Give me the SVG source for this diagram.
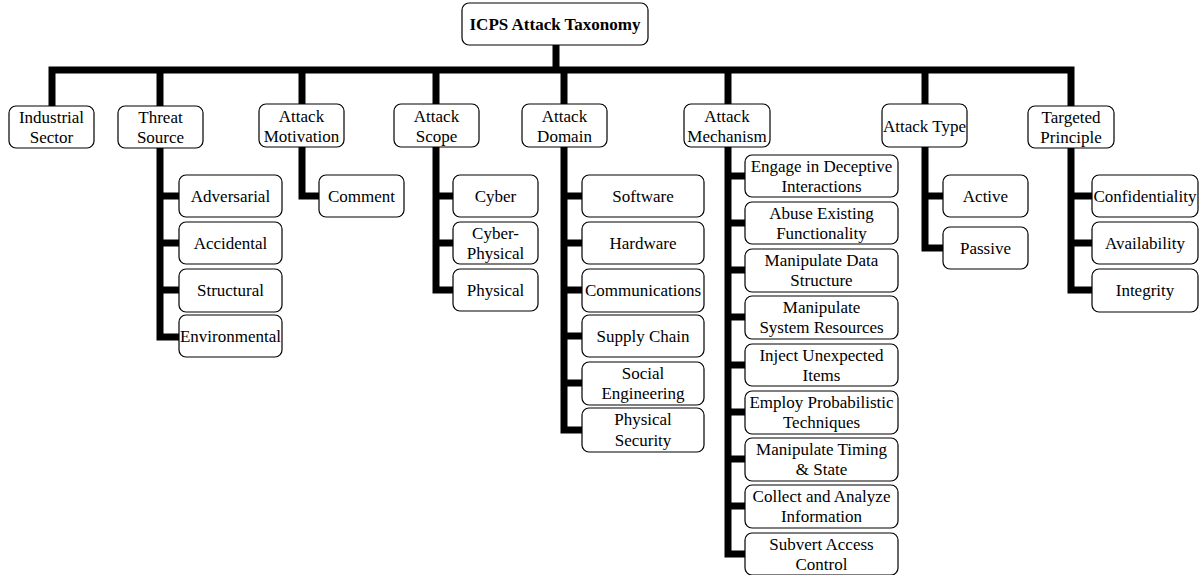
<svg xmlns="http://www.w3.org/2000/svg" width="1202" height="575" viewBox="0 0 1202 575">
<style>
.box{fill:#fff;stroke:#000;stroke-width:1.2}
.t{font-family:"Liberation Serif","Times New Roman",serif;font-size:17px;fill:#000;text-anchor:middle}
.b{font-weight:bold}
.c{fill:none;stroke:#000;stroke-width:7;stroke-linejoin:miter;stroke-linecap:butt}
</style>
<rect width="1202" height="575" fill="#fff"/>
<g id="connectors">
<path class="c" d="M556,45 V70"/>
<path class="c" d="M52,106 V70 H1071 V106"/>
<path class="c" d="M160,70 V106"/>
<path class="c" d="M302,70 V104"/>
<path class="c" d="M436,70 V104"/>
<path class="c" d="M564,70 V104"/>
<path class="c" d="M728,70 V104"/>
<path class="c" d="M925,70 V104"/>
<path class="c" d="M160,148 V337 H179 M160,196 H179 M160,243 H179 M160,290 H179"/>
<path class="c" d="M302,147 V196 H319"/>
<path class="c" d="M436,147 V290 H453 M436,196 H453 M436,243 H453"/>
<path class="c" d="M564,147 V430 H582 M564,196 H582 M564,243 H582 M564,290 H582 M564,336 H582 M564,383 H582"/>
<path class="c" d="M728,147 V554 H745 M728,176 H745 M728,223 H745 M728,270 H745 M728,317 H745 M728,365 H745 M728,412 H745 M728,459 H745 M728,506 H745"/>
<path class="c" d="M925,147 V248 H943 M925,196 H943"/>
<path class="c" d="M1071,148 V290 H1092 M1071,196 H1092 M1071,243 H1092"/>
</g>
<g id="root"><rect class="box" x="462" y="3" width="186" height="42" rx="7"/><text class="t b" x="555" y="30">ICPS Attack Taxonomy</text></g>
<g id="industrial-sector"><rect class="box" x="9" y="106" width="85" height="42" rx="7"/><text class="t" x="51.5" y="123">Industrial</text><text class="t" x="51.5" y="143">Sector</text></g>
<g id="threat-source"><rect class="box" x="118" y="106" width="85" height="42" rx="7"/><text class="t" x="160.5" y="123">Threat</text><text class="t" x="160.5" y="143">Source</text></g>
<g id="attack-motivation"><rect class="box" x="259" y="104" width="85" height="43" rx="7"/><text class="t" x="301.5" y="122">Attack</text><text class="t" x="301.5" y="142">Motivation</text></g>
<g id="attack-scope"><rect class="box" x="394" y="104" width="85" height="43" rx="7"/><text class="t" x="436.5" y="122">Attack</text><text class="t" x="436.5" y="142">Scope</text></g>
<g id="attack-domain"><rect class="box" x="522" y="104" width="85" height="43" rx="7"/><text class="t" x="564.5" y="122">Attack</text><text class="t" x="564.5" y="142">Domain</text></g>
<g id="attack-mechanism"><rect class="box" x="684" y="104" width="86" height="43" rx="7"/><text class="t" x="727" y="122">Attack</text><text class="t" x="727" y="142">Mechanism</text></g>
<g id="attack-type"><rect class="box" x="882" y="104" width="85" height="43" rx="7"/><text class="t" x="924.5" y="132">Attack Type</text></g>
<g id="targeted-principle"><rect class="box" x="1028" y="106" width="86" height="42" rx="7"/><text class="t" x="1071" y="123">Targeted</text><text class="t" x="1071" y="143">Principle</text></g>
<g id="adversarial"><rect class="box" x="179" y="175" width="103" height="42" rx="7"/><text class="t" x="230.5" y="201.5">Adversarial</text></g>
<g id="accidental"><rect class="box" x="179" y="222" width="103" height="42" rx="7"/><text class="t" x="230.5" y="248.5">Accidental</text></g>
<g id="structural"><rect class="box" x="179" y="269" width="103" height="43" rx="7"/><text class="t" x="230.5" y="296">Structural</text></g>
<g id="environmental"><rect class="box" x="179" y="315" width="103" height="42" rx="7"/><text class="t" x="230.5" y="341.5">Environmental</text></g>
<g id="comment"><rect class="box" x="319" y="175" width="85" height="42" rx="7"/><text class="t" x="361.5" y="201.5">Comment</text></g>
<g id="cyber"><rect class="box" x="453" y="175" width="85" height="42" rx="7"/><text class="t" x="495.5" y="201.5">Cyber</text></g>
<g id="cyber-physical"><rect class="box" x="453" y="222" width="85" height="42" rx="7"/><text class="t" x="495.5" y="239">Cyber-</text><text class="t" x="495.5" y="259">Physical</text></g>
<g id="physical"><rect class="box" x="453" y="269" width="85" height="42" rx="7"/><text class="t" x="495.5" y="295.5">Physical</text></g>
<g id="software"><rect class="box" x="582" y="175" width="122" height="42" rx="7"/><text class="t" x="643" y="201.5">Software</text></g>
<g id="hardware"><rect class="box" x="582" y="222" width="122" height="42" rx="7"/><text class="t" x="643" y="248.5">Hardware</text></g>
<g id="communications"><rect class="box" x="582" y="269" width="122" height="43" rx="7"/><text class="t" x="643" y="296">Communications</text></g>
<g id="supply-chain"><rect class="box" x="582" y="315" width="122" height="42" rx="7"/><text class="t" x="643" y="341.5">Supply Chain</text></g>
<g id="social-engineering"><rect class="box" x="582" y="362" width="122" height="43" rx="7"/><text class="t" x="643" y="379">Social</text><text class="t" x="643" y="399">Engineering</text></g>
<g id="physical-security"><rect class="box" x="582" y="408" width="122" height="44" rx="7"/><text class="t" x="643" y="425">Physical</text><text class="t" x="643" y="446">Security</text></g>
<g id="engage"><rect class="box" x="745" y="155" width="153" height="42" rx="7"/><text class="t" x="821.5" y="172">Engage in Deceptive</text><text class="t" x="821.5" y="192">Interactions</text></g>
<g id="abuse"><rect class="box" x="745" y="202" width="153" height="42" rx="7"/><text class="t" x="821.5" y="219">Abuse Existing</text><text class="t" x="821.5" y="239">Functionality</text></g>
<g id="manipulate-data"><rect class="box" x="745" y="249" width="153" height="43" rx="7"/><text class="t" x="821.5" y="266">Manipulate Data</text><text class="t" x="821.5" y="286">Structure</text></g>
<g id="manipulate-system"><rect class="box" x="745" y="296" width="153" height="43" rx="7"/><text class="t" x="821.5" y="313">Manipulate</text><text class="t" x="821.5" y="333">System Resources</text></g>
<g id="inject"><rect class="box" x="745" y="344" width="153" height="42" rx="7"/><text class="t" x="821.5" y="361">Inject Unexpected</text><text class="t" x="821.5" y="381">Items</text></g>
<g id="employ"><rect class="box" x="745" y="391" width="153" height="43" rx="7"/><text class="t" x="821.5" y="408">Employ Probabilistic</text><text class="t" x="821.5" y="428">Techniques</text></g>
<g id="timing"><rect class="box" x="745" y="438" width="153" height="43" rx="7"/><text class="t" x="821.5" y="455">Manipulate Timing</text><text class="t" x="821.5" y="475">&amp; State</text></g>
<g id="collect"><rect class="box" x="745" y="485" width="153" height="43" rx="7"/><text class="t" x="821.5" y="502">Collect and Analyze</text><text class="t" x="821.5" y="522">Information</text></g>
<g id="subvert"><rect class="box" x="745" y="533" width="153" height="42" rx="7"/><text class="t" x="821.5" y="550">Subvert Access</text><text class="t" x="821.5" y="570">Control</text></g>
<g id="active"><rect class="box" x="943" y="175" width="85" height="42" rx="7"/><text class="t" x="985.5" y="201.5">Active</text></g>
<g id="passive"><rect class="box" x="943" y="227" width="85" height="42" rx="7"/><text class="t" x="985.5" y="253.5">Passive</text></g>
<g id="confidentiality"><rect class="box" x="1092" y="175" width="106" height="42" rx="7"/><text class="t" x="1145" y="201.5">Confidentiality</text></g>
<g id="availability"><rect class="box" x="1092" y="222" width="106" height="42" rx="7"/><text class="t" x="1145" y="248.5">Availability</text></g>
<g id="integrity"><rect class="box" x="1092" y="269" width="106" height="43" rx="7"/><text class="t" x="1145" y="296">Integrity</text></g>
</svg>
